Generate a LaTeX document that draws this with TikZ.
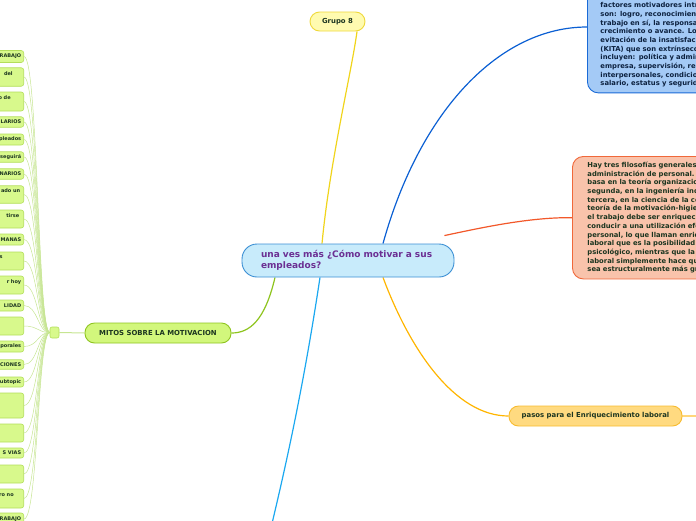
\documentclass[tikz,border=0pt]{standalone}
\usepackage{fontspec}
\setmainfont{DejaVu Sans}
\usetikzlibrary{backgrounds,calc}
\definecolor{hubfill}{HTML}{C8EBFB}
\definecolor{hubdraw}{HTML}{3B8FD4}
\definecolor{hubtext}{HTML}{6B2F93}
\definecolor{gfill}{HTML}{FFFBB0}
\definecolor{gdraw}{HTML}{EFD83A}
\definecolor{yline}{HTML}{F0D41C}
\definecolor{bfill}{HTML}{A4CAF6}
\definecolor{bdraw}{HTML}{1A6AD6}
\definecolor{bline}{HTML}{0B5FD3}
\definecolor{btext}{HTML}{0D2240}
\definecolor{sfill}{HTML}{F9C3AB}
\definecolor{sdraw}{HTML}{F0683A}
\definecolor{sline}{HTML}{F2582A}
\definecolor{pfill}{HTML}{FFDA80}
\definecolor{pdraw}{HTML}{F7BB30}
\definecolor{pline}{HTML}{FFB500}
\definecolor{pline2}{HTML}{FFD77A}
\definecolor{mfill}{HTML}{D2F77C}
\definecolor{mdraw}{HTML}{8FC421}
\definecolor{mline}{HTML}{8EC41E}
\definecolor{lfill}{HTML}{D8F98C}
\definecolor{ldraw}{HTML}{B3DE5A}
\definecolor{twigc}{HTML}{C6E592}
\definecolor{lbline}{HTML}{1BA8F0}
\definecolor{txt}{HTML}{1C3520}
\newcommand{\lf}[2]{\mbox{#1\kern#2pt}\\\mbox{}}
\begin{document}
\begin{tikzpicture}[x=1pt,y=-1pt,
  hub/.style={draw=hubdraw,fill=hubfill,line width=0.9pt,rounded corners=15pt,
    text width=174pt,align=left,inner xsep=19pt,inner ysep=0pt,minimum width=212pt,
    minimum height=33pt,font=\fontsize{9}{11.5}\selectfont\bfseries,text=hubtext},
  topic/.style={line width=0.9pt,rounded corners=9.5pt,inner sep=0pt,
    font=\fontsize{6.9}{8}\selectfont\bfseries,text=txt},
  bigbox/.style={line width=0.9pt,rounded corners=11pt,align=left,
    font=\fontsize{6.8}{8.7}\selectfont\bfseries,anchor=north west},
  leaf/.style={draw=ldraw,fill=lfill,line width=0.6pt,rounded corners=2.5pt,
    text width=70pt,align=right,inner xsep=2.5pt,inner ysep=1pt,anchor=east,
    font=\fontsize{5}{7}\selectfont\bfseries,text=txt},
  twig/.style={draw=twigc,line width=0.5pt},
  conn/.style={line width=1.2pt}]
\useasboundingbox (0,0) rectangle (696,520);

% main nodes
\node[hub] (c) at (348,260.5) {una ves más ¿Cómo motivar a sus\\empleados?};
\node[topic,draw=gdraw,fill=gfill,minimum width=55pt,minimum height=19pt] (g) at (337.5,21.5) {Grupo 8};
\node[topic,draw=mdraw,fill=mfill,minimum width=146pt,minimum height=20pt] (m) at (158,333) {MITOS SOBRE LA MOTIVACION};
\node[topic,draw=pdraw,fill=pfill,minimum width=173pt,minimum height=20pt] (p) at (595.5,416) {pasos para el Enriquecimiento laboral};
\node[bigbox,draw=bdraw,fill=bfill,text=btext,text width=220pt,inner xsep=13pt,inner ysep=5.5pt] (b) at (587,-15.7)
 {\mbox{}\\\mbox{}\\
 factores motivadores intrínsecos\\
 son: logro, reconocimiento\\
 trabajo en sí, la responsabilidad\\
 crecimiento o avance. Los\\
 evitación de la insatisfacción\\
 (KITA) que son extrínsecos\\
 incluyen: política y administración\\
 empresa, supervisión, relaciones\\
 interpersonales, condiciones\\
 salario, estatus y seguridad.};
\node[bigbox,draw=sdraw,fill=sfill,text=txt,text width=220pt,inner xsep=15pt,inner ysep=5.6pt] (s) at (572,156)
 {Hay tres filosofías generales\\
 administración de personal.\\
 basa en la teoría organizacional\\
 segunda, en la ingeniería industrial\\
 tercera, en la ciencia de la conducta\\
 teoría de la motivación-higiene\\
 el trabajo debe ser enriquecido\\
 conducir a una utilización efectiva\\
 personal, lo que llaman enriquecimiento\\
 laboral que es la posibilidad\\
 psicológico, mientras que la\\
 laboral simplemente hace que\\
 sea estructuralmente más grande};

% junction
\node[draw=ldraw,fill=lfill,line width=0.6pt,rounded corners=2pt,minimum width=9pt,minimum height=11pt,inner sep=0pt] (j) at (54.5,332.5) {};

% leaves
\node[leaf,minimum height=12pt] (l1) at (24,56.5) {TRABAJO};
\node[leaf,minimum height=18.5pt] (l2) at (24,77) {\lf{del}{8.5}};
\node[leaf,minimum height=19pt] (l3) at (24,101.5) {\lf{o de}{10.5}};
\node[leaf,minimum height=10.5pt] (l4) at (24,122) {LARIOS};
\node[leaf,minimum height=11pt] (l5) at (24,139.5) {pleados};
\node[leaf,minimum height=10.5pt] (l6) at (24,157) {seguirá};
\node[leaf,minimum height=10.5pt] (l7) at (24,174) {NARIOS};
\node[leaf,minimum height=17.5pt] (l8) at (24,194.5) {\lf{ado un}{1}};
\node[leaf,minimum height=18pt] (l9) at (24,219) {\lf{tirse}{2}};
\node[leaf,minimum height=11pt] (l10) at (24,239.5) {MANAS};
\node[leaf,minimum height=18pt] (l11) at (24,261) {\lf{s}{18.5}};
\node[leaf,minimum height=18pt] (l12) at (24,285) {\lf{r hoy}{0}};
\node[leaf,minimum height=11pt] (l13) at (24,305.5) {LIDAD};
\node[leaf,minimum height=18pt] (l14) at (24,326) {};
\node[leaf,minimum height=11pt] (l15) at (24,346.5) {porales};
\node[leaf,minimum height=9.5pt] (l16) at (24,364.5) {CIONES};
\node[leaf,minimum height=10pt] (l17) at (24,382) {subtopic};
\node[leaf,minimum height=25pt] (l18) at (24,405.5) {};
\node[leaf,minimum height=18pt] (l19) at (24,433) {};
\node[leaf,minimum height=10pt] (l20) at (24,453) {S VIAS};
\node[leaf,minimum height=18pt] (l21) at (24,474) {};
\node[leaf,minimum height=19pt] (l22) at (24,498.5) {\lf{ro no}{7.5}};
\node[leaf,minimum height=12pt] (l23) at (24,519) {RABAJO};

\coordinate (lbend) at (268,540);
\coordinate (pend) at (700,416);

\begin{scope}[on background layer]
 \draw[conn,yline] ([xshift=-26pt]c.north) .. controls (330,160) and (352,70) .. ([xshift=19.5pt]g.south);
 \draw[conn,bline] ([xshift=35pt]c.north) .. controls (420,110) and (500,27) .. (b.west |- 0,27);
 \draw[conn,sline] ([xshift=-10pt,yshift=8pt]c.north east) .. controls (480,228) and (530,217) .. (s.west);
 \draw[conn,pline] ([xshift=35pt]c.south) .. controls (410,350) and (455,416) .. (p.west);
 \draw[conn,pline2] (p.east) -- (pend);
 \draw[conn,lbline] ([xshift=-28pt]c.south) .. controls (306,370) and (290,450) .. (lbend);
 \draw[conn,mline] ([xshift=-73pt]c.south) .. controls (265,320) and (250,333) .. (m.east);
 \draw[draw=twigc,line width=1pt] (m.west) -- (j.east);
 \foreach \i in {1,...,23}
   \draw[twig] (j.west) .. controls ($(j.west)+(-12,0)$) and ($(l\i.east)+(14,0)$) .. (l\i.east);
\end{scope}
\end{tikzpicture}
\end{document}
